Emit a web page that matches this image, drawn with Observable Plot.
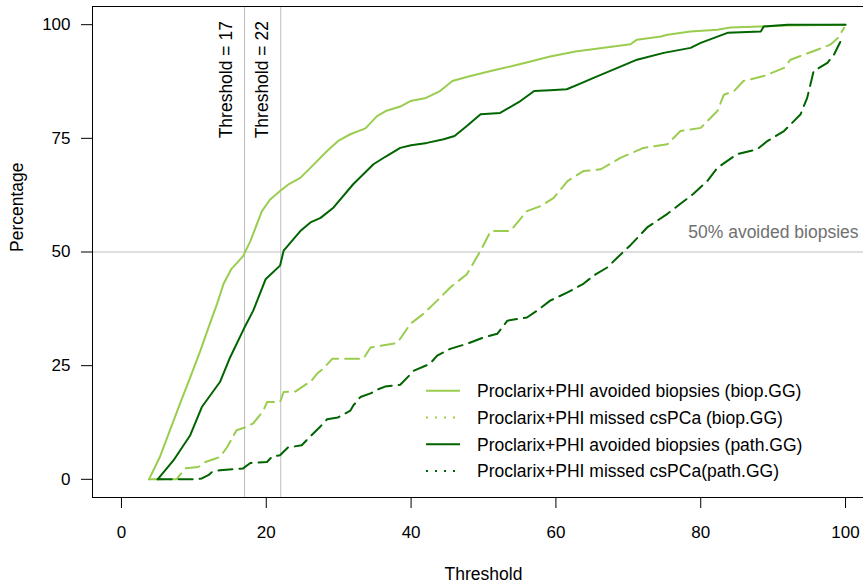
<!DOCTYPE html>
<html>
<head>
<meta charset="utf-8">
<script src="https://cdn.jsdelivr.net/npm/d3@7"></script>
<script src="https://cdn.jsdelivr.net/npm/@observablehq/plot@0.6"></script>
<style>
  html, body { margin: 0; padding: 0; background: #fff; overflow: hidden; }
  #wrap { position: relative; width: 863px; height: 585px; overflow: hidden; }
  #wrap > svg.plot { max-width: none !important; display: block; }
  #legend { position: absolute; left: 0; top: 0; pointer-events: none; }
</style>
</head>
<body>
<div id="wrap"></div>
<script>
// ---- Data ----
const avoidBiopThreshold = [3.8,5.3,6.7,8.1,9.5,10.9,12.2,13.2,14.1,15.2,16.8,17.8,19.4,20.5,21.9,23,24.7,26.1,28.4,30,31.6,33.7,35.3,36.5,38.5,39.9,41.9,44,45.7,48.2,51,53.7,56.5,59.2,62.7,66.1,70.3,71.2,74.5,75.4,78.6,82.3,84.1,88.2,92,100];
const avoidBiopPct       = [0,4.9,10.8,16.7,22.4,28.3,34.2,38.6,43,46.3,49.1,52.4,59,61.5,63.4,64.8,66.3,68.5,72.2,74.5,75.9,77.2,79.9,81,82,83.2,83.8,85.4,87.6,88.7,89.8,90.8,91.9,93,94.1,94.8,95.7,96.7,97.4,97.8,98.5,98.9,99.4,99.6,99.8,100];

const missedBiopThreshold = [3.8,7.6,8.8,10.6,11.6,12.7,13.6,14.6,15.9,17.2,18.2,19.6,20.1,21.9,22.4,24,25.6,26.1,27,27.9,29.1,33.4,34.4,38.1,39.9,41.7,43.6,45.4,47.7,49.6,51,53.7,56,57.9,59.7,61.6,63.8,66.2,68.9,72.1,75.4,77.2,80,82.3,83.2,84.6,85.9,88.7,91.5,92.4,96.1,97.9,98.9,99.8];
const missedBiopPct       = [0,0,2.4,2.7,3.8,4.4,4.9,7.1,10.8,11.5,12.3,15.1,17,17,19.2,19.3,21,21.4,23.2,24.4,26.5,26.5,29,30,34.2,36.4,39.3,42.2,45.1,50.3,54.6,54.6,59,60.1,61.9,65.6,67.8,68.2,70.7,72.9,73.7,76.6,77.3,81,84.6,85.4,87.6,88.7,90.5,92.3,94.5,95.6,97,99.3];

const avoidPathThreshold = [5,7.2,9.5,11.1,13.6,15,16.9,18.2,19.9,21.9,22.4,24.7,26.1,27.5,29.3,32,34.8,36.5,38.5,40,42.2,44.5,46,47.7,49.6,52.3,55.1,57,59.2,61.5,63.6,65.2,68.5,71.2,74.9,78.6,80,83.7,88.3,88.7,92,100];
const avoidPathPct       = [0,4.2,9.7,15.9,21.4,26.8,33.1,37.1,44,47,50.3,54.6,56.5,57.5,59.8,64.9,69.3,71,72.9,73.5,74,74.8,75.5,77.7,80.3,80.6,83.2,85.4,85.6,85.8,87.2,88.3,90.5,92.3,93.8,94.9,96,98.2,98.5,99.6,100,100];

const missedPathThreshold = [5,10.4,11.1,12,12.5,13.6,16.8,17.8,20.1,20.8,21.9,23,24.9,25.8,27.4,28.4,29.9,31.6,32,33,34.4,35.3,36.4,38.5,40.4,42.6,43.6,45.4,47.7,50,51.9,53.3,56,57.4,59.2,61.6,63.8,65.2,67.1,68.5,70.3,72.6,75.4,77.2,79,80.9,82.3,85,87.8,89.2,91.5,93.8,94.7,95.6,97.5,98.4,99.3,99.8];
const missedPathPct       = [0,0,0.2,0.9,1.6,2,2.4,3.6,3.8,5,5.3,7,7.5,9,11.5,13.2,13.6,15.1,16.2,18.1,18.9,19.7,20.4,20.8,23.9,25.4,27.2,28.7,29.8,31.2,32,34.9,35.6,37.1,39.3,41.1,43,44.8,46.6,48.8,51.5,55.4,58.4,60.6,62.8,65.6,68.5,71.5,72.6,74.4,76.6,80.3,83.9,89.8,91.6,93.4,96.3,97.4];

const seriesNames = [
  "Proclarix+PHI avoided biopsies (biop.GG)",
  "Proclarix+PHI missed csPCa (biop.GG)",
  "Proclarix+PHI avoided biopsies (path.GG)",
  "Proclarix+PHI missed csPCa(path.GG)"
];
const thresholdLines = [17, 22];
const referencePct = [50];
const referenceLabel = "50% avoided biopsies";
const xTicks = [0, 20, 40, 60, 80, 100];
const yTicks = [0, 25, 50, 75, 100];

// ---- Styles ----
const LIGHT = "#9acd4f";
const DARK = "#006400";
const FONT = "'Liberation Sans', Arial, Helvetica, sans-serif";
const seriesStyle = [
  {stroke: LIGHT, dash: null, legendDash: null},
  {stroke: LIGHT, dash: "14,7", legendDash: "2,7"},
  {stroke: DARK, dash: null, legendDash: null},
  {stroke: DARK, dash: "14,7", legendDash: "2,7"}
];

const zip = (xs, ys) => xs.map((t, i) => ({t, p: ys[i]}));
const seriesData = [
  zip(avoidBiopThreshold, avoidBiopPct),
  zip(missedBiopThreshold, missedBiopPct),
  zip(avoidPathThreshold, avoidPathPct),
  zip(missedPathThreshold, missedPathPct)
];

const lineMarks = seriesData.map((rows, i) =>
  Plot.line(rows, {
    x: "t", y: "p",
    stroke: seriesStyle[i].stroke,
    strokeWidth: 2,
    strokeDasharray: seriesStyle[i].dash || undefined,
    strokeLinejoin: "round"
  })
);

const chart = Plot.plot({
  width: 874,
  height: 585,
  marginLeft: 92,
  marginRight: 0,
  marginTop: 6,
  marginBottom: 88,
  x: {domain: [-4, 104]},
  y: {domain: [-4, 104]},
  style: {fontFamily: FONT, fontSize: "17px", color: "black", background: "white", maxWidth: "none"},
  marks: [
    Plot.ruleX(thresholdLines, {stroke: "#bebebe", strokeWidth: 1}),
    Plot.ruleY(referencePct, {stroke: "#bebebe", strokeWidth: 1}),
    ...lineMarks,
    Plot.text(thresholdLines, {
      x: d => d, y: 75, text: d => `Threshold = ${d}`,
      rotate: -90, textAnchor: "start", dx: -18, fontSize: 17.5, fill: "black"
    }),
    Plot.text([referenceLabel], {
      x: 100, y: referencePct[0], text: d => d,
      textAnchor: "end", lineAnchor: "bottom", dx: 13, dy: -14, fontSize: 17.5, fill: "#707070"
    }),
    Plot.axisX({ticks: xTicks, tickSize: 11, tickPadding: 17, label: null, fontSize: 17}),
    Plot.axisY({ticks: yTicks, tickSize: 11, tickPadding: 11, label: null, fontSize: 17}),
    Plot.text(["Percentage"], {frameAnchor: "left", rotate: -90, dx: -75, fontSize: 17.5, fill: "black"}),
    Plot.text(["Threshold"], {frameAnchor: "bottom", lineAnchor: "bottom", dy: 82, fontSize: 17.5, fill: "black"}),
    Plot.frame({stroke: "black", strokeWidth: 1})
  ]
});
chart.style.maxWidth = "none";

const wrap = document.getElementById("wrap");
wrap.appendChild(chart);

// ---- Legend (inside the plot area, lower right) ----
const leg = d3.select(wrap).append("svg")
  .attr("id", "legend")
  .attr("width", 863).attr("height", 585)
  .style("font-family", FONT).style("font-size", "17.5px");
const legX = 426, legLen = 34, legTextX = 477, legY0 = 390.7, legStep = 26.8;
seriesNames.forEach((name, i) => {
  const y = legY0 + i * legStep;
  leg.append("line")
    .attr("x1", legX).attr("x2", legX + legLen)
    .attr("y1", y).attr("y2", y)
    .attr("stroke", seriesStyle[i].stroke)
    .attr("stroke-width", 2)
    .attr("stroke-dasharray", seriesStyle[i].legendDash);
  leg.append("text")
    .attr("x", legTextX).attr("y", y).attr("dy", "0.36em")
    .attr("fill", "black")
    .text(name);
});
</script>
</body>
</html>
